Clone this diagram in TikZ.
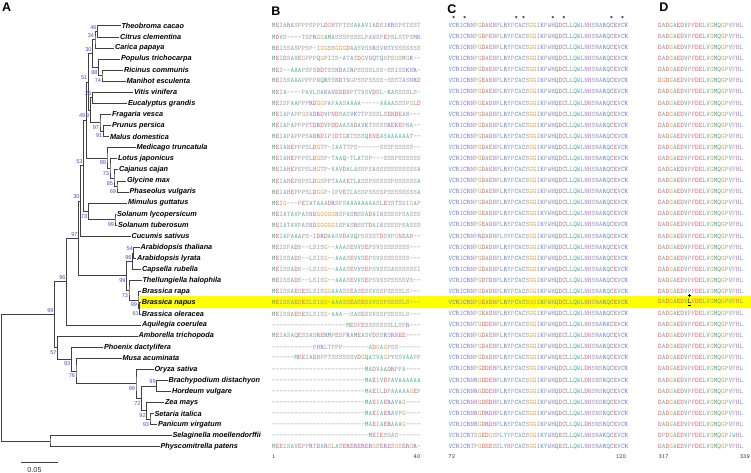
\documentclass[tikz,border=0pt]{standalone}
\usepackage{fontspec}
\setmainfont{Liberation Sans}
\usetikzlibrary{calc}
\definecolor{aaA}{HTML}{5FB8A8}
\definecolor{aaC}{HTML}{7C78D0}
\definecolor{aaD}{HTML}{E05C5C}
\definecolor{aaE}{HTML}{E06A6A}
\definecolor{aaF}{HTML}{E487B0}
\definecolor{aaG}{HTML}{E8A33D}
\definecolor{aaH}{HTML}{C46FD6}
\definecolor{aaI}{HTML}{8C9BB4}
\definecolor{aaK}{HTML}{5A6EE0}
\definecolor{aaL}{HTML}{7FA8A8}
\definecolor{aaM}{HTML}{3FA37F}
\definecolor{aaN}{HTML}{9B84CC}
\definecolor{aaP}{HTML}{A3A3A8}
\definecolor{aaQ}{HTML}{4FAF7E}
\definecolor{aaR}{HTML}{7E6FD9}
\definecolor{aaS}{HTML}{A0A0A0}
\definecolor{aaT}{HTML}{98A0A8}
\definecolor{aaV}{HTML}{4FB3AC}
\definecolor{aaW}{HTML}{5FA6C0}
\definecolor{aaY}{HTML}{58B8B0}
\definecolor{gapc}{HTML}{9A9A9A}
\definecolor{bsblue}{HTML}{4A4AD8}
\definecolor{hl}{HTML}{FFFF00}
\ExplSyntaxOn
\dim_new:N \l_aaw_dim
\tl_new:N \l_aaseq_tl
\cs_new:Npn \aachar #1 {
  \str_case:nnF {#1}
   { {-}{\textcolor{gapc}{-}}
     {x}{\textcolor{black}{\underline{L}}} }
   { \textcolor{aa#1}{#1} }
}
\NewDocumentCommand\aaseq{mm}{
  \dim_set:Nn \l_aaw_dim {#1}
  \tl_set:Nx \l_aaseq_tl {#2}
  \tl_map_inline:Nn \l_aaseq_tl { \makebox[\l_aaw_dim][c]{\aachar{##1}} }
}
\ExplSyntaxOff
\def\Cd{VCRICRNPGDAENPLRYPCACSGGIKPWHQDCLLQWLNHSNARQCEVCK}
\def\Ca{VCRICRNPGDADNPLRYPCACSGGIKPWHQDCLLQWLNHSNARQCEVCK}
\def\Ce{VCRICRNPGEADNPLRYPCACSGGIKPWHQDCLLQWLNHSNARQCEVCK}
\def\Dd{DADGAEDVPFDELVGMQGPVFHL}
\newcommand\ry[1]{25.8+11.08*#1}
\newcommand\alnrow[4]{%
  \node[seqt] (b#1) at (271.7,{\ry{#1}}) {\aaseq{3.72pt}{#2}};
  \node[seqt] (c#1) at (448.3,{\ry{#1}}) {\aaseq{3.67pt}{#3}};
  \node[seqt] (d#1) at (658,{\ry{#1}}) {\aaseq{3.70pt}{#4}};}
\newcommand\taxtip[4]{%
  \coordinate (#1) at (#3,{\ry{#2}});
  \node[taxon] (l#1) at (#1) {#4};}
\newcommand\treenode[4]{%
  \path let \p1=($(#3)!.5!(#4)$) in coordinate (#1) at (#2pt,\y1);
  \draw[br] (#3) -| (#1) |- (#4);}
\newcommand\bsa[3]{\node[bs] (s#1) at ($(#1)+(-0.8,-4)$) {#3};}
\newcommand\bsb[3]{\node[bs] (s#1) at ($(#1)+(-0.8,5)$) {#3};}
\tikzset{
  br/.style={line width=0.7pt, draw=black!75},
  taxon/.style={anchor=west, inner sep=0.8pt, font=\fontsize{7.3}{8}\selectfont\bfseries\itshape},
  bs/.style={anchor=east, inner sep=0pt, text=bsblue, font=\fontsize{5.6}{6}\selectfont},
  seqt/.style={anchor=west, inner sep=0pt, font=\ttfamily\fontsize{6.9}{7}\selectfont},
  idx/.style={inner sep=0pt, text=black!80, font=\ttfamily\fontsize{6.2}{7}\selectfont},
  panel/.style={inner sep=0pt, font=\fontsize{12.5}{13}\selectfont\bfseries},
}
\begin{document}
\begin{tikzpicture}[x=1pt,y=-1pt]
\useasboundingbox (0,0) rectangle (751,473);
\fill[hl] (140,296) rectangle (751,307.5);
% panel letters
\node[panel] (pA) at (6.7,7.2) {A};
\node[panel] (pB) at (276,11) {B};
\node[panel] (pC) at (452,9.3) {C};
\node[panel] (pD) at (664,7) {D};
% tips
\taxtip{Theo}{0}{120.5}{Theobroma cacao}
\taxtip{Cit}{1}{119}{Citrus clementina}
\taxtip{Car}{2}{114}{Carica papaya}
\taxtip{Pop}{3}{120}{Populus trichocarpa}
\taxtip{Ric}{4}{123}{Ricinus communis}
\taxtip{Man}{5}{125.5}{Manihot esculenta}
\taxtip{Vit}{6}{133}{Vitis vinifera}
\taxtip{Euc}{7}{127}{Eucalyptus grandis}
\taxtip{Fra}{8}{111}{Fragaria vesca}
\taxtip{Pru}{9}{111}{Prunus persica}
\taxtip{Mal}{10}{109}{Malus domestica}
\taxtip{Med}{11}{135.5}{Medicago truncatula}
\taxtip{Lot}{12}{117}{Lotus japonicus}
\taxtip{Caj}{13}{118}{Cajanus cajan}
\taxtip{Gly}{14}{126}{Glycine max}
\taxtip{Pha}{15}{128.5}{Phaseolus vulgaris}
\taxtip{Mim}{16}{127}{Mimulus guttatus}
\taxtip{SoL}{17}{116}{Solanum lycopersicum}
\taxtip{SoT}{18}{117}{Solanum tuberosum}
\taxtip{Cuc}{19}{130.5}{Cucumis sativus}
\taxtip{AtT}{20}{139.5}{Arabidopsis thaliana}
\taxtip{AtL}{21}{136}{Arabidopsis lyrata}
\taxtip{Cap}{22}{141}{Capsella rubella}
\taxtip{The}{23}{141.5}{Thellungiella halophila}
\taxtip{Bra}{24}{141}{Brassica rapa}
\taxtip{Bna}{25}{140.8}{Brassica napus}
\taxtip{Bol}{26}{140.8}{Brassica oleracea}
\taxtip{Aqu}{27}{141}{Aquilegia coerulea}
\taxtip{Amb}{28}{137.5}{Amborella trichopoda}
\taxtip{Pho}{29}{103}{Phoenix dactylifera}
\taxtip{Mus}{30}{121.5}{Musa acuminata}
\taxtip{Ory}{31}{153.5}{Oryza sativa}
\taxtip{Brd}{32}{167.5}{Brachypodium distachyon}
\taxtip{Hor}{33}{171}{Hordeum vulgare}
\taxtip{Zea}{34}{164}{Zea mays}
\taxtip{Set}{35}{153.5}{Setaria italica}
\taxtip{Pan}{36}{157}{Panicum virgatum}
\taxtip{Sel}{37}{171.5}{Selaginella moellendorffii}
\taxtip{Phy}{38}{159.5}{Physcomitrella patens}
% tree
\treenode{nTC}{97.5}{Theo}{Cit}
\treenode{nTCC}{95}{nTC}{Car}
\treenode{nRM}{102}{Ric}{Man}
\treenode{nPRM}{98.5}{Pop}{nRM}
\treenode{n30a}{92.5}{nTCC}{nPRM}
\treenode{nVE}{92.3}{Vit}{Euc}
\treenode{nPM}{103.3}{Pru}{Mal}
\treenode{nRos}{100}{Fra}{nPM}
\treenode{n9}{90.3}{nVE}{nRos}
\treenode{n51}{88.3}{n30a}{n9}
\treenode{nGP}{117}{Gly}{Pha}
\treenode{nCGP}{114}{Caj}{nGP}
\treenode{nLCGP}{110}{Lot}{nCGP}
\treenode{nFab}{107}{Med}{nLCGP}
\treenode{n49}{86.3}{n51}{nFab}
\treenode{nSol}{115}{SoL}{SoT}
\treenode{nAst}{88.3}{Mim}{nSol}
\treenode{n53}{83.6}{n49}{nAst}
\treenode{n30b}{80.6}{n53}{Cuc}
\treenode{nAr}{133.8}{AtT}{AtL}
\treenode{nArC}{132.5}{nAr}{Cap}
\treenode{nBno}{139.8}{Bna}{Bol}
\treenode{nBra}{138}{Bra}{nBno}
\treenode{nTB}{129}{The}{nBra}
\treenode{nBrc}{126.5}{nArC}{nTB}
\treenode{n97}{78.6}{n30b}{nBrc}
\treenode{n96}{66.5}{n97}{Aqu}
\treenode{nSP}{150}{Set}{Pan}
\treenode{nZSP}{146.7}{Zea}{nSP}
\treenode{nBH}{156.7}{Brd}{Hor}
\treenode{n72}{141.5}{nBH}{nZSP}
\treenode{nGr}{136}{Ory}{n72}
\treenode{n76}{76}{Mus}{nGr}
\treenode{n93}{71.3}{Pho}{n76}
\treenode{n57}{57.5}{Amb}{n93}
\treenode{n99}{54.5}{n96}{n57}
\treenode{nBry}{50}{Sel}{Phy}
\treenode{root}{1.7}{n99}{nBry}
% bootstrap values
\bsa{nTC}{}{46}
\bsa{nTCC}{}{34}
\bsa{n30a}{}{30}
\bsb{nPRM}{}{88}
\bsb{nRM}{}{74}
\bsa{n51}{}{51}
\bsa{nVE}{}{26}
\bsb{n9}{}{9}
\bsa{n49}{}{49}
\bsb{nRos}{}{97}
\bsb{nPM}{}{91}
\bsa{n53}{}{53}
\bsb{nFab}{}{99}
\bsb{nLCGP}{}{73}
\bsb{nCGP}{}{85}
\bsb{nGP}{}{69}
\bsa{n30b}{}{30}
\bsb{nAst}{}{73}
\bsb{nSol}{}{99}
\bsa{n97}{}{97}
\bsa{nAr}{}{54}
\bsa{nArC}{}{96}
\bsb{nBrc}{}{99}
\bsb{nTB}{}{73}
\bsb{nBra}{}{99}
\bsb{nBno}{}{61}
\bsa{n96}{}{96}
\bsa{n99}{}{99}
\bsb{n57}{}{57}
\bsb{n93}{}{93}
\bsb{n76}{}{76}
\bsa{nBH}{}{99}
\bsb{nGr}{}{99}
\bsb{n72}{}{72}
\bsb{nZSP}{}{92}
\bsb{nSP}{}{93}
% scale bar
\coordinate (sb1) at (20.7,462);
\coordinate (sb2) at (57.7,462);
\draw[line width=0.7pt, black!75] (sb1) -- (sb2);
\node[inner sep=0pt, text=black!80, font=\fontsize{7.3}{8}\selectfont] (sbl) at (34.5,469.5) {0.05};
% alignments
\alnrow{0}{MEIARASPPPSPPLDGHTPTSSAAAVIADSIKRSPSTSST}{\Cd}{\Dd}
\alnrow{1}{MDVS----TSPRGGAMASSSPSSSLPANSPEPSLSTPSMK}{VCRICRNPGDPENPLRYPCACSGGIKPWHQDCLLQWLNHSNARQCEVCK}{\Dd}
\alnrow{2}{MEISSASPPSP-IGGSSGGGDAASVSSRSVNSYSSSSSSS}{\Cd}{\Dd}
\alnrow{3}{MEIDSAVEGPPPQGPITS-ATATDGVNQTQSPSGSMGK--}{\Cd}{\Dd}
\alnrow{4}{MEI--AAAPSPSDDTSSNDAIRPSSSSLSS-SSISSKNR-}{\Cd}{\Dd}
\alnrow{5}{MEISSAAAPPPPNQRYSNDTNGPSSPSSSS-SSSTASNRD}{VCRICRNPGEAENPLRYPCACSGGIKPWHQDCLLQWLNHSNARQCEVCK}{DGDGAEDVPFDELVGMQGPVFHL}
\alnrow{6}{MEIA----PAVLSAKANENDNPTTVSVDSL-KASSSSLS-}{\Cd}{\Dd}
\alnrow{7}{MEISPAAPPPRDGGPAPAASAAAA-----AAAASSSPGLD}{VCRICRNPGEADNPLRYPCACSGGIKPWHQECLLQWLDHSNARQCEVCK}{\Dd}
\alnrow{8}{MEIAPAPPGSADRDVPNDSASVKTTPSSSLSENDEAN---}{\Ca}{\Dd}
\alnrow{9}{MEIAPAPPPPTDRDVPDDAASADAVKTSSSSKEKEPNA--}{\Ca}{\Dd}
\alnrow{10}{MEIAPAPPPSADRDIPIDTGKTSSSQENEASAAAAAAT--}{\Ca}{\Dd}
\alnrow{11}{MEIANEPPPSLDGTP-IAATTPS------SSSPSSSSS--}{\Cd}{\Dd}
\alnrow{12}{MEIAHEPPPSLDGSP-TAAQ-TLATSP---SSSPSSSSSS}{\Cd}{\Dd}
\alnrow{13}{MEIAHEPSPSLHGTP-VAVDALASSPSASSSSSSSSSSSA}{\Cd}{\Dd}
\alnrow{14}{MEIAHEPSPSLDGSPPTAAAETLASSPSSSSSPSSSSSSA}{\Cd}{\Dd}
\alnrow{15}{MEIAHEPPPSLDGGP-IPVETLASSPSSSSPSSSSSSSSA}{\Cd}{\Dd}
\alnrow{16}{MEIG---PETATAAADRSPSAAAAAAAASLETSTSSIGAP}{\Ca}{\Dd}
\alnrow{17}{MEIATAVPASNDGGGGGNSPASRSSADAINSSSSPSASSS}{VCRICRNPGEADNPLRYPCACSGGIKYWHQDCLLQWLNHSNARQCEVCK}{\Dd}
\alnrow{18}{MEIATAVPASNDGGGGGISPASRSSTDAINSSSSPSASSS}{VCRICRNPGEADNPLRYPCACSGGIKYWHQDCLLQWLNHSNARQCEVCK}{\Dd}
\alnrow{19}{MEIAPAAAPS-IDRDAASVDAVQPSSSSTDSVPGNEAN--}{VCRICRNPRDADNPLSYPCACSGGIKPWHQDCLLQWLNHSNARQCEVCK}{\Dd}
\alnrow{20}{MEISPADS--LSISG--AAASEVVSEPSVSSSSSSSS---}{\Ca}{\Dd}
\alnrow{21}{MEISSADS--LSISG--AAASEVVSEPSVSSSSSSSS---}{\Ca}{\Dd}
\alnrow{22}{MEISSADS--LSISG--AAASEVVSEPSVSSSASSSSSSI}{\Ca}{\Dd}
\alnrow{23}{MEISSADS--LSISG--AAASEVVSEPSVSSPSSSSVS--}{VCRICRNPGDTDNPLRYPCACSGGIKPWHQDCLLQWLNHSNARQCEVCK}{\Dd}
\alnrow{24}{MEISSAESESLSISGGAAASSEASESSVSSPSSSSLS---}{\Ca}{\Dd}
\alnrow{25}{MEISSAESESLSISG-AAASSEASESSVSSPSSSSLS---}{\Ce}{DADGAEDVxFDELVGMQGPVFHL}
\alnrow{26}{MEISSAESESLSISG-AAA--SASESSVSSPSSSSLS---}{\Ce}{\Dd}
\alnrow{27}{--------------------MESFESSSSSSSLLSFR---}{VCRICRNTGDDENPLRYPCACSGGIKPWHQDCLLQWLNHSNARKCEVCK}{\Dd}
\alnrow{28}{MEIASAQESSASRERMPESFRAMEASVDSSRSRNEE----}{VCRICRNPGDAENPLRYPCACSGGIKPWHQECLLQWLDHSNARQCEVCK}{\Dd}
\alnrow{29}{-----------PHRLTPPP-------ADGAGPSS------}{\Cd}{\Dd}
\alnrow{30}{------MEEIADNPPTSSSSSSVDGQATVAGPYSSVAAPP}{VCRICRNPGDADNPLRYPCACSGGIKPWHQECLLQWLDHSNARQCEVCK}{\Dd}
\alnrow{31}{-------------------------MADVAADRPPA----}{VCRICRNPGDDEHPLRYPCACSGGIKPWHQDCLLQWLDHSNSRQCEVCK}{\Dd}
\alnrow{32}{-------------------------MAEIVDPAVAAAAAA}{VCRICRNRGDDEHPLRYPCACSGGIKPWHQDCLLQWLDHSNSRQCEVCK}{\Dd}
\alnrow{33}{-------------------------MAEILDPAAAAAGEP}{VCRICRNRGDDEHPLRYPCACSGGIKPWHQDCLLQWLDHSNSRQCEVCK}{\Dd}
\alnrow{34}{-------------------------MAEIAERAVAG----}{VCRICRNHGDEDHPLRYPCACSGGIKPWHQDCLLQWLNHSNSRQCEVCK}{\Dd}
\alnrow{35}{-------------------------MAEIAERAVPG----}{VCRICRNRGDRDHPLRYPCACSGGIKPWHQDCLLQWLNHSNSRQCEVCK}{\Dd}
\alnrow{36}{-------------------------MAEIAERAAAG----}{VCRICRNRGDRDHPLRYPCACSGGIKPWHQDCLLQWLDHSNSRQCEVCK}{\Dd}
\alnrow{37}{--------------------------MEIESSAS------}{VCRICRTSGEDGSPLYYPCACSGGIKYWHQECLLQWLNHSNAKQCEVCK}{DPDGAEDVPFDELVGMQGPIWHL}
\alnrow{38}{MEEISAVEPPRTDARGLASERERERERGSERESGSERGR-}{VCRICRTPGDEESSLYHPCACSGGIKYWHQECLLQWLNHSNARQCEVCK}{\Dd}
% conservation stars
\foreach \k [count=\i] in {1,4,18,20,28,31,44,47}
  \node[idx, text=black] (st\i) at ({448.3+(\k+0.5)*3.67},18.2) {*};
% marker above the substituted residue
\coordinate (mk) at (689.3,295.6);
\draw[line width=0.9pt, black] ($(mk)+(-1.6,0)$) -- ($(mk)+(1.6,0)$);
\draw[line width=0.9pt, black] ($(mk)+(0,-1.6)$) -- ($(mk)+(0,1.8)$);
% indices
\node[idx, anchor=west] (i1) at (272,457) {1};
\node[idx, anchor=east] (i40) at (420.5,457) {40};
\node[idx, anchor=west] (i72) at (448.3,457) {72};
\node[idx, anchor=east] (i120) at (626,457) {120};
\node[idx, anchor=west] (i317) at (658.5,457) {317};
\node[idx, anchor=east] (i339) at (750,457) {339};
\end{tikzpicture}
\end{document}
